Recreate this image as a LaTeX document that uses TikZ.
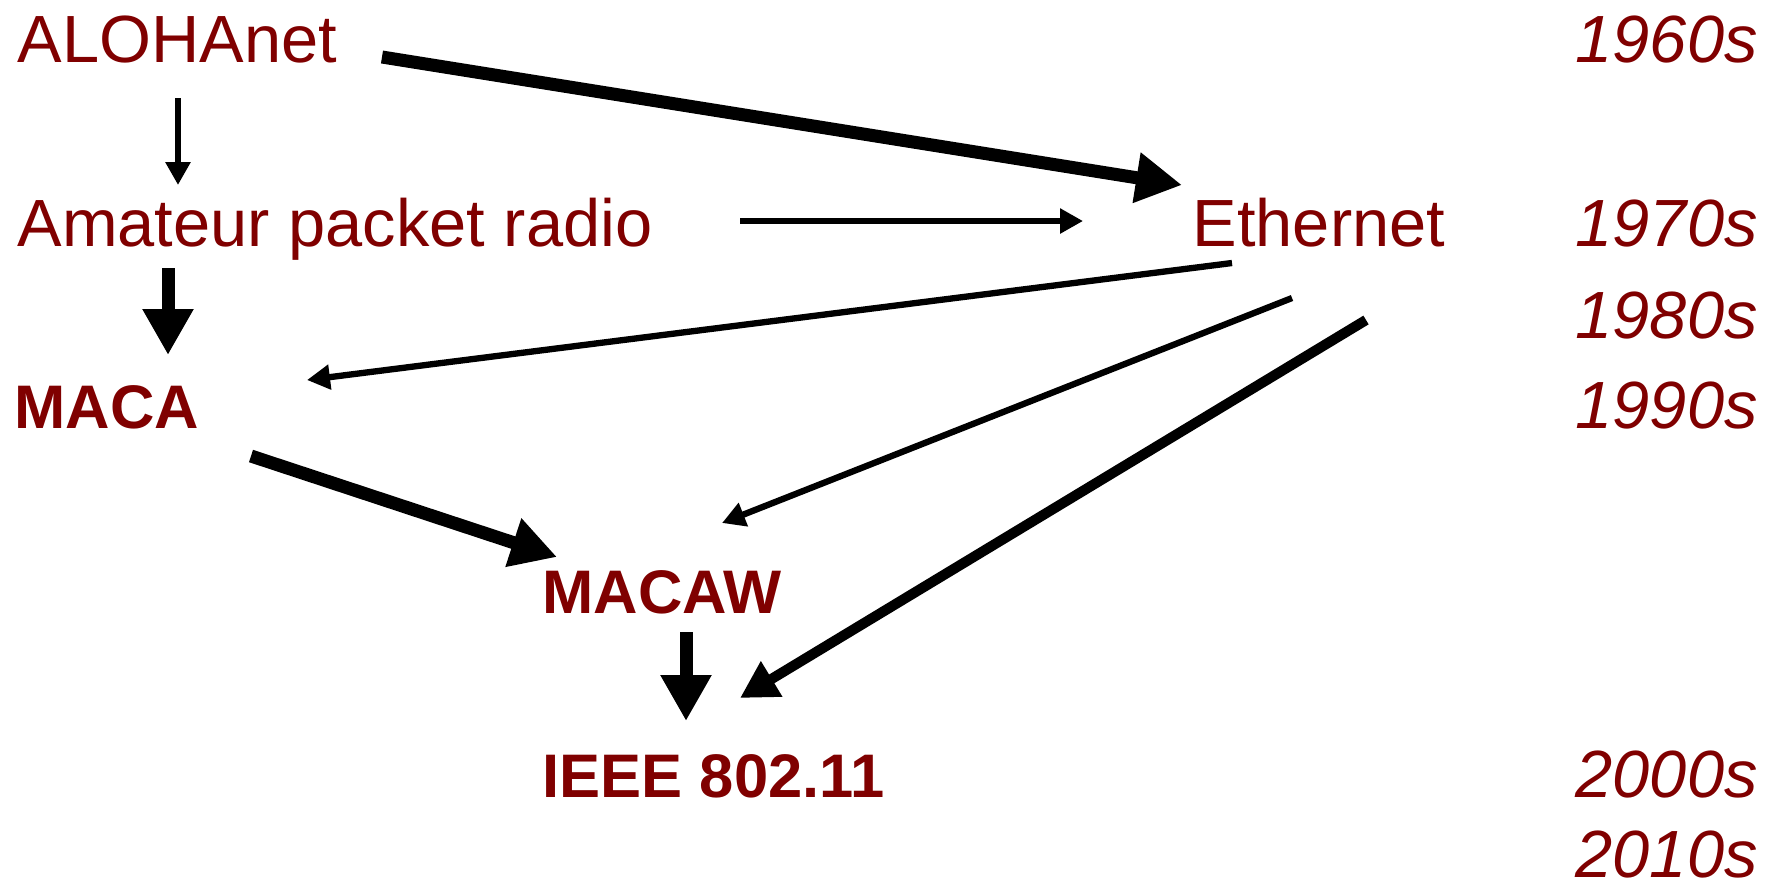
\documentclass[tikz,border=0pt]{standalone}
\usepackage{fontspec}
\setmainfont{Liberation Sans}
\usetikzlibrary{arrows.meta}
\definecolor{darkred}{RGB}{128,0,0}

\begin{document}
\begin{tikzpicture}[x=0.1mm,y=-0.1mm,
  tech/.style={anchor=base west,inner sep=0pt,text=darkred,font=\fontsize{19}{19}\selectfont},
  techbold/.style={tech,font=\fontsize{17.5}{18}\selectfont\bfseries},
  decade/.style={tech,font=\fontsize{19}{19}\selectfont\itshape},
  lightarrow/.style={line width=1.8pt,-{Triangle[length=2.3mm,width=2.4mm]}},
  midarrow/.style={line width=2.9pt,-{Triangle[length=3.7mm,width=3.9mm]}},
  heavyarrow/.style={line width=3.7pt,-{Triangle[length=4.6mm,width=4.8mm]}}]
  \useasboundingbox (0,0) rectangle (1777,890);

  % Technologies
  \node[tech] (aloha) at (17,62) {ALOHAnet};
  \node[tech] (amateur) at (17,246) {Amateur packet radio};
  \node[tech] (eth) at (1192,246) {Ethernet};
  \node[techbold] (maca) at (14,428) {MACA};
  \node[techbold] (macaw) at (542,613) {MACAW};
  \node[techbold] (ieee) at (542,797) {IEEE 802.11};

  % Decades
  \node[decade] (d60) at (1575,62) {1960s};
  \node[decade] (d70) at (1575,246) {1970s};
  \node[decade] (d80) at (1575,338) {1980s};
  \node[decade] (d90) at (1575,428) {1990s};
  \node[decade] (d00) at (1575,797) {2000s};
  \node[decade] (d10) at (1575,877) {2010s};

  % Arrows
  \draw[heavyarrow] ([shift={(365,-5)}]aloha.base west) -- ([shift={(-10,-61)}]eth.base west);
  \draw[lightarrow] ([shift={(161,36)}]aloha.base west) -- ([shift={(161,-61)}]amateur.base west);
  \draw[lightarrow] ([shift={(723,-25)}]amateur.base west) -- ([shift={(-109,-25)}]eth.base west);
  \draw[heavyarrow] ([shift={(151,22)}]amateur.base west) -- ([shift={(154,-73)}]maca.base west);
  \draw[lightarrow] ([shift={(40,17)}]eth.base west) -- ([shift={(293,-48)}]maca.base west);
  \draw[lightarrow] ([shift={(100,52)}]eth.base west) -- ([shift={(180,-90)}]macaw.base west);
  \draw[midarrow] ([shift={(174,74)}]eth.base west) -- ([shift={(198,-99)}]ieee.base west);
  \draw[heavyarrow] ([shift={(237,28)}]maca.base west) -- ([shift={(15,-56)}]macaw.base west);
  \draw[heavyarrow] ([shift={(144,19)}]macaw.base west) -- ([shift={(144,-76)}]ieee.base west);
\end{tikzpicture}
\end{document}
